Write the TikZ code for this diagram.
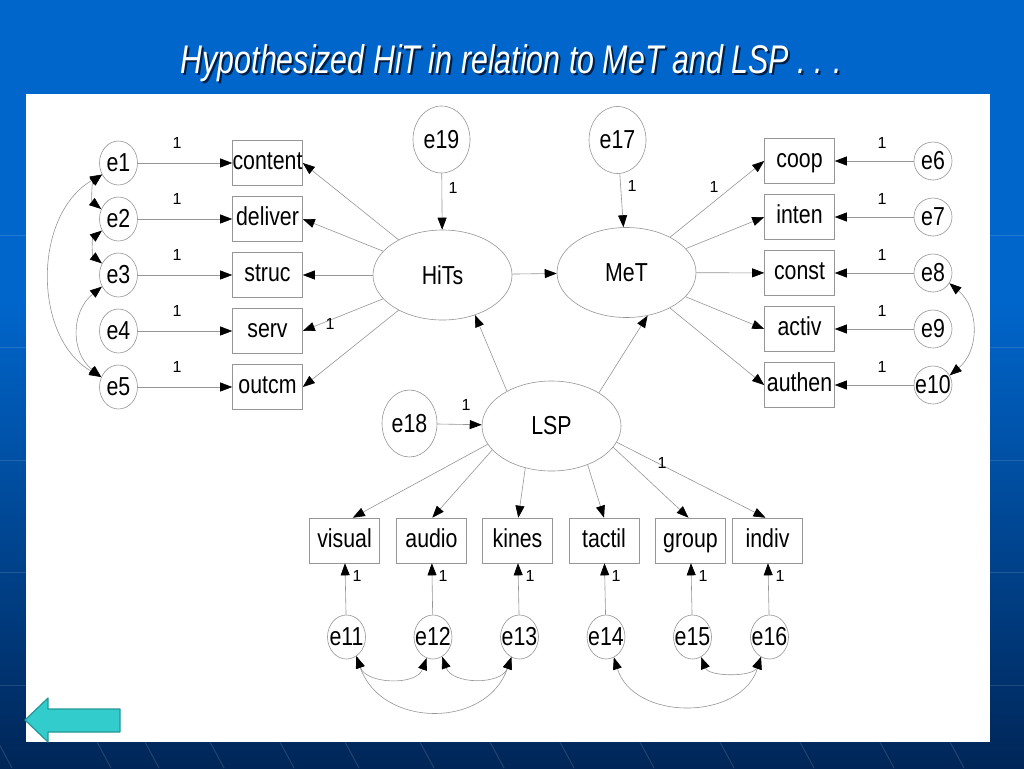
\documentclass[tikz,border=0pt]{standalone}
\usepackage{fontspec}
\setmainfont{Liberation Sans}
\newfontfamily\narrowfont[FakeStretch=0.82]{Liberation Sans}
\newfontfamily\titlefont[FakeStretch=0.76]{Liberation Sans}
\usetikzlibrary{arrows.meta,shapes.geometric,calc}
\definecolor{bgtop}{RGB}{0,102,204}
\definecolor{bgbot}{RGB}{0,38,88}
\definecolor{ln}{RGB}{150,150,150}
\definecolor{tealfill}{RGB}{51,204,204}
\definecolor{tealline}{RGB}{40,150,150}
\definecolor{shadowc}{RGB}{0,30,70}
\newcommand\ztext[1]{\makebox[0pt]{#1}}
\begin{document}
\begin{tikzpicture}[x=1pt,y=-1pt,
  lblfont/.style={font=\narrowfont\fontsize{26}{26}\selectfont},
  obs/.style={rectangle,draw=ln,line width=0.6pt,minimum width=70pt,minimum height=45pt,inner sep=0pt,text height=18pt,text depth=5pt,lblfont},
  err/.style={ellipse,draw=ln,line width=0.6pt,minimum width=38pt,minimum height=44pt,inner sep=0pt,lblfont},
  errc/.style={err,minimum height=38pt},
  bigerr/.style={err,minimum width=57pt,minimum height=67pt},
  lat/.style={ellipse,draw=ln,line width=0.6pt,minimum width=139pt,minimum height=90pt,inner sep=0pt,lblfont},
  arr/.style={draw=ln,line width=0.6pt,-{Triangle[length=12pt,width=9pt,color=black]}},
  cov/.style={draw=ln,line width=0.6pt,{Triangle[length=12pt,width=9pt,color=black]}-{Triangle[length=12pt,width=9pt,color=black]}},
  one/.style={font=\fontsize{16}{16}\selectfont,inner sep=0pt},
  bgline/.style={draw=white,opacity=0.13,line width=1pt}]
\useasboundingbox (0,0) rectangle (1024,768);
% background
\fill[bgtop] (0,0) rectangle (1024,300);
\shade[top color=bgtop,bottom color=bgbot] (0,299) rectangle (1024,768);
\foreach \yy in {235,347,460,572,685}{
  \draw[bgline] (0,\yy) -- (26,\yy);
  \draw[bgline] (990,\yy) -- (1024,\yy);
}
\foreach \xx in {-2,97,145,210,280,345,420,490,560,640,720,800,880,950}{
  \draw[bgline] (\xx,742) -- ($(\xx,742)+(14,26)$);
}
% title
\node[anchor=base,text=shadowc,font=\titlefont\itshape\fontsize{40}{40}\selectfont] (titleshadow) at (513.5,75) {Hypothesized HiT in relation to MeT and LSP . . .};
\node[anchor=base,text=white,font=\titlefont\itshape\fontsize{40}{40}\selectfont] (title) at (511.5,73) {Hypothesized HiT in relation to MeT and LSP . . .};
% panel
\fill[white] (26,94) rectangle (990,742);
% left error terms and indicators
\node[err] (e1) at (118.5,163) {\ztext{e1}};
\node[err] (e2) at (118.5,219) {\ztext{e2}};
\node[err] (e3) at (118.5,275) {\ztext{e3}};
\node[err] (e4) at (118.5,331) {\ztext{e4}};
\node[err] (e5) at (118.5,387) {\ztext{e5}};
\node[obs] (content) at (267.5,163) {content};
\node[obs] (deliver) at (267.5,219) {deliver};
\node[obs] (struc) at (267.5,275) {struc};
\node[obs] (serv) at (267.5,331) {serv};
\node[obs] (outcm) at (267.5,387) {outcm};
% right
\node[obs] (coop) at (799.5,161) {coop};
\node[obs] (inten) at (799.5,217) {inten};
\node[obs] (const) at (799.5,273) {const};
\node[obs] (activ) at (799.5,329) {activ};
\node[obs] (authen) at (799.5,385) {authen};
\node[errc] (e6) at (933,161) {\ztext{e6}};
\node[errc] (e7) at (933,217) {\ztext{e7}};
\node[errc] (e8) at (933,273) {\ztext{e8}};
\node[errc] (e9) at (933,329) {\ztext{e9}};
\node[errc] (e10) at (933,385) {\ztext{e10}};
% latents
\node[lat] (HiTs) at (442.5,275) {HiTs};
\node[lat] (MeT) at (626.5,272.5) {MeT};
\node[lat] (LSP) at (551.5,426) {LSP};
\node[bigerr] (e19) at (441.5,139.5) {\ztext{e19}};
\node[bigerr] (e17) at (617.5,140) {\ztext{e17}};
\node[bigerr,minimum width=55pt] (e18) at (409.5,423.5) {\ztext{e18}};
% bottom
\node[obs] (visual) at (344.5,540.5) {visual};
\node[obs] (audio) at (431.5,540.5) {audio};
\node[obs] (kines) at (517.5,540.5) {kines};
\node[obs] (tactil) at (604,540.5) {tactil};
\node[obs] (group) at (690.5,540.5) {group};
\node[obs] (indiv) at (767.5,540.5) {indiv};
\node[err] (e11) at (346.5,637) {\ztext{e11}};
\node[err] (e12) at (433,637) {\ztext{e12}};
\node[err] (e13) at (519.5,637) {\ztext{e13}};
\node[err] (e14) at (606,637) {\ztext{e14}};
\node[err] (e15) at (692.5,637) {\ztext{e15}};
\node[err] (e16) at (769.5,637) {\ztext{e16}};
% paths
\foreach \a/\b in {e1/content,e2/deliver,e3/struc,e4/serv,e5/outcm,
                   e6/coop,e7/inten,e8/const,e9/activ,e10/authen,
                   e11/visual,e12/audio,e13/kines,e14/tactil,e15/group,e16/indiv,
                   e19/HiTs,e17/MeT,e18/LSP,HiTs/MeT}{
  \draw[arr] (\a) -- (\b);
}
\draw[arr] (HiTs) -- (content.east);
\draw[arr] (HiTs) -- (deliver.east);
\draw[arr] (HiTs) -- (struc);
\draw[arr] (HiTs) -- (serv.east);
\draw[arr] (HiTs) -- (outcm.east);
\draw[arr] (MeT) -- (coop.west);
\draw[arr] (MeT) -- (inten.west);
\draw[arr] (MeT) -- (const);
\draw[arr] (MeT) -- (activ.west);
\draw[arr] (MeT) -- (authen.west);
\draw[arr] (LSP.142) -- (HiTs.309);
\draw[arr] (LSP.35) -- (MeT.296);
\draw[arr] (LSP.196) -- (visual.70);
\draw[arr] (LSP.202) -- (audio.88);
\draw[arr] (LSP.238) -- (kines.88);
\draw[arr] (LSP.313) -- (tactil.90);
\draw[arr] (LSP.341) -- (group.95);
\draw[arr] (LSP.346) -- (indiv.95);
% covariances
\draw[cov] (e1.215) .. controls +(-10,8) and +(-10,-8) .. (e2.150);
\draw[cov] (e2.215) .. controls +(-10,8) and +(-10,-8) .. (e3.145);
\draw[cov] (e1.215) .. controls +(-69,40) and +(-69,-40) .. (e5.150);
\draw[cov] (e3.215) .. controls +(-31,25) and +(-31,-25) .. (e5.150);
\draw[cov] (e8.328) .. controls +(30,25) and +(30,-25) .. (e10.30);
\draw[cov] (e11.297) .. controls +(10,28) and +(-10,28) .. (e12.253);
\draw[cov] (e12.295) .. controls +(10,28) and +(-10,28) .. (e13.248);
\draw[cov] (e11.297) .. controls +(25,72) and +(-25,72) .. (e13.248);
\draw[cov] (e14.291) .. controls +(20,64) and +(-20,64) .. (e16.247);
\draw[cov] (e15.293) .. controls +(8,20) and +(-8,20) .. (e16.247);
% weight labels
\foreach \yy [count=\i] in {143,199,255,311,367}{
  \node[one] (wl\i) at (177,\yy) {1};
  \node[one] (wr\i) at (882,\yy) {1};
}
\foreach \xx [count=\i] in {357,443,530,616,703,780}{
  \node[one] (wb\i) at (\xx,576) {1};
}
\node[one] (wserv) at (330,324) {1};
\node[one] (we19) at (453,188) {1};
\node[one] (we17) at (632,186) {1};
\node[one] (wcoop) at (714,187) {1};
\node[one] (we18) at (466,405) {1};
\node[one] (windiv) at (662,463) {1};
% back arrow
\draw[tealline,fill=tealfill,line width=1.2pt,line join=round] (25,720) -- (48,698) -- (48,709) -- (120,709) -- (120,732) -- (48,732) -- (48,742) -- cycle;
\end{tikzpicture}
\end{document}
